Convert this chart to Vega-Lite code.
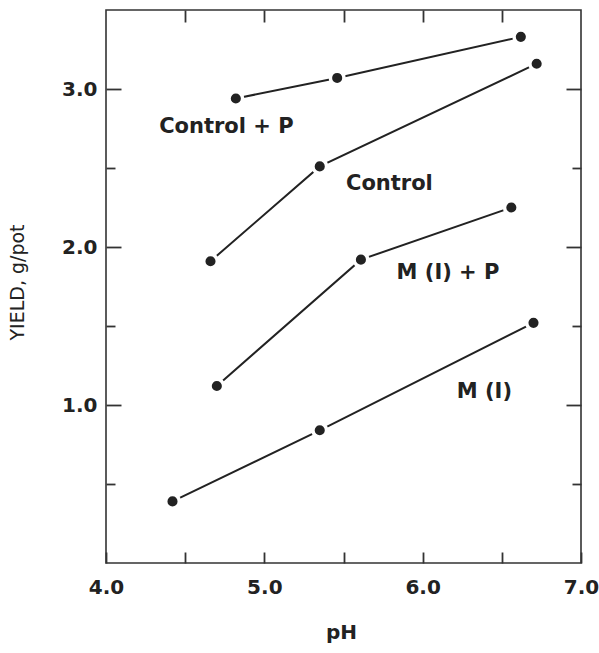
{
  "$schema": "https://vega.github.io/schema/vega-lite/v6.json",
  "width": 475,
  "height": 553,
  "autosize": {"type": "none"},
  "padding": {"left": 106, "top": 10, "right": 18, "bottom": 90},
  "background": "white",
  "config": {
    "font": "DejaVu Sans",
    "view": {"stroke": "#333", "strokeWidth": 1.6},
    "axis": {
      "domain": false,
      "grid": false,
      "tickColor": "#333",
      "tickWidth": 1.8,
      "labelColor": "#222",
      "labelFont": "DejaVu Sans",
      "labelFontSize": 20,
      "labelFontWeight": "bold",
      "titleColor": "#222",
      "titleFont": "DejaVu Sans"
    }
  },
  "datasets": {
    "series": [
      {"series": "Control + P", "pH": 4.82, "yield": 2.94},
      {"series": "Control + P", "pH": 5.46, "yield": 3.07},
      {"series": "Control + P", "pH": 6.62, "yield": 3.33},
      {"series": "Control", "pH": 4.66, "yield": 1.91},
      {"series": "Control", "pH": 5.35, "yield": 2.51},
      {"series": "Control", "pH": 6.72, "yield": 3.16},
      {"series": "M (I) + P", "pH": 4.70, "yield": 1.12},
      {"series": "M (I) + P", "pH": 5.61, "yield": 1.92},
      {"series": "M (I) + P", "pH": 6.56, "yield": 2.25},
      {"series": "M (I)", "pH": 4.42, "yield": 0.39},
      {"series": "M (I)", "pH": 5.35, "yield": 0.84},
      {"series": "M (I)", "pH": 6.70, "yield": 1.52}
    ],
    "labels": [
      {"label": "Control + P", "pH": 4.76, "yield": 2.76},
      {"label": "Control", "pH": 5.79, "yield": 2.40},
      {"label": "M (I) + P", "pH": 6.16, "yield": 1.835},
      {"label": "M (I)", "pH": 6.39, "yield": 1.08}
    ]
  },
  "layer": [
    {
      "data": {"name": "series"},
      "mark": {"type": "line", "color": "#222", "strokeWidth": 2},
      "encoding": {
        "x": {
          "field": "pH", "type": "quantitative",
          "scale": {"domain": [4, 7], "nice": false, "zero": false},
          "axis": {
            "orient": "bottom",
            "values": [4, 4.5, 5, 5.5, 6, 6.5, 7],
            "labelExpr": "datum.value % 1 === 0 ? format(datum.value, '.1f') : ''",
            "tickSize": -11,
            "labelPadding": 25,
            "labelFlush": false,
            "labelBound": false,
            "labelOverlap": false,
            "title": "pH",
            "titleFontSize": 20,
            "titleFontWeight": "bold",
            "titleX": 235,
            "titleY": 69,
            "titleBaseline": "middle",
            "titleAnchor": null
          }
        },
        "y": {
          "field": "yield", "type": "quantitative",
          "scale": {"domain": [0, 3.5], "nice": false, "zero": false},
          "axis": {
            "orient": "left",
            "values": [1, 2, 3],
            "format": ".1f",
            "tickSize": -15,
            "labelPadding": 24,
            "title": "YIELD, g/pot",
            "titleFontSize": 19,
            "titleFontWeight": "normal",
            "titleAngle": -90,
            "titleX": -89,
            "titleY": 272,
            "titleAlign": "center",
            "titleBaseline": "middle"
          }
        },
        "detail": {"field": "series"}
      }
    },
    {
      "data": {"name": "series"},
      "mark": {"type": "point", "filled": true, "shape": "circle", "size": 185, "fill": "#222", "stroke": "white", "strokeWidth": 3.5, "opacity": 1},
      "encoding": {
        "x": {
          "field": "pH", "type": "quantitative",
          "axis": {"orient": "top", "values": [4.5, 5, 5.5, 6, 6.5], "tickSize": -12, "labels": false, "title": null}
        },
        "y": {
          "field": "yield", "type": "quantitative",
          "axis": {"orient": "left", "values": [0.5, 1.5, 2.5], "tickSize": -9, "labels": false, "title": null}
        }
      }
    },
    {
      "data": {"name": "labels"},
      "mark": {"type": "text", "fontSize": 21, "fontWeight": "bold", "color": "#222", "align": "center", "baseline": "middle"},
      "encoding": {
        "x": {"field": "pH", "type": "quantitative", "axis": null},
        "y": {
          "field": "yield", "type": "quantitative",
          "axis": {"orient": "right", "values": [1, 2, 3], "tickSize": -15, "labels": false, "title": null}
        },
        "text": {"field": "label"}
      }
    },
    {
      "data": {"name": "series"},
      "mark": {"type": "point", "opacity": 0},
      "encoding": {
        "x": {"field": "pH", "type": "quantitative", "axis": null},
        "y": {
          "field": "yield", "type": "quantitative",
          "axis": {"orient": "right", "values": [0.5, 1.5, 2.5], "tickSize": -9, "labels": false, "title": null}
        }
      }
    }
  ],
  "resolve": {"axis": {"x": "independent", "y": "independent"}}
}
